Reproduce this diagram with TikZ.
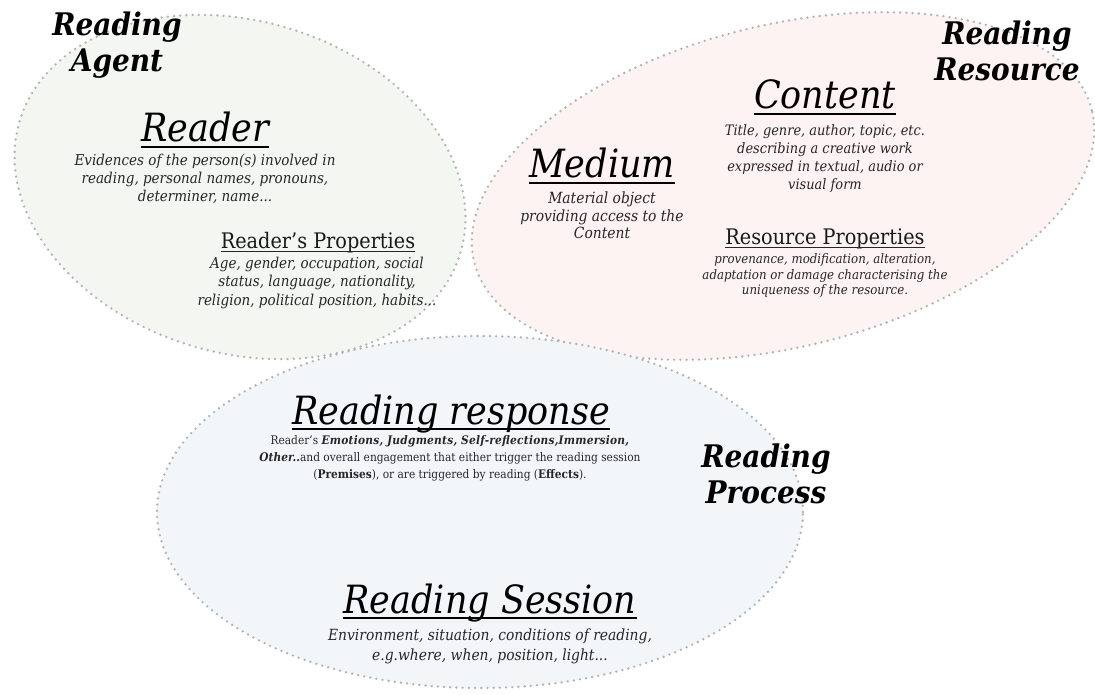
\documentclass[tikz,border=0pt]{standalone}
\usepackage{fontspec}
\setmainfont{DejaVu Serif}[FakeStretch=0.9]
\definecolor{agentfill}{HTML}{F3F6F1}
\definecolor{resfill}{HTML}{FCF3F2}
\definecolor{procfill}{HTML}{F3F6F9}
\definecolor{dotgray}{HTML}{B2B2B2}
\definecolor{desccol}{HTML}{262626}
\newcommand\mlines[1]{\begin{tabular}[t]{@{}c@{}}#1\end{tabular}}
\tikzset{
  blob/.style={draw=dotgray, line width=2.6pt, dash pattern=on 0pt off 6.2pt, line cap=round},
  areatxt/.style={anchor=base, inner sep=0pt, text=black, font=\fontsize{31.1}{36}\selectfont\bfseries\itshape},
  titletxt/.style={anchor=base, inner sep=0pt, text=black, font=\fontsize{38.9}{44}\selectfont\itshape},
  subtxt/.style={anchor=base, inner sep=0pt, text=black!90, font=\fontsize{21.4}{24}\selectfont},
  desctxt/.style={anchor=base, inner sep=0pt, text=desccol},
  ulthick/.style={line width=2.6pt, black},
  ulthin/.style={line width=1.3pt, black!85},
}
\begin{document}
\begin{tikzpicture}[x=1pt, y=-1pt]
\useasboundingbox (0,0) rectangle (1095,695);
\fill[white] (0,0) rectangle (1095,695);
% areas
\path[blob, fill=agentfill, rotate around={-16.6:(240,187)}] (240,187) ellipse [x radius=230pt, y radius=166pt];
\path[blob, fill=resfill, rotate around={13.8:(783,186)}] (783,186) ellipse [x radius=318pt, y radius=161pt];
\path[blob, fill=procfill] (480,512) ellipse [x radius=323pt, y radius=176pt];
% area labels
\node[areatxt] (lagent) at (117,36) {\mlines{Reading\\Agent}};
\node[areatxt] (lres) at (1007,45) {\mlines{Reading\\Resource}};
\node[areatxt] (lproc) at (766,467) {\mlines{Reading\\Process}};
% Reader
\node[titletxt] (treader) at (205,142) {Reader};
\draw[ulthick] ([yshift=-5pt]treader.base west) -- ([yshift=-5pt]treader.base east);
\node[desctxt, font=\fontsize{15}{18}\selectfont\itshape] (dreader) at (205,166)
  {\mlines{Evidences of the person(s) involved in\\reading, personal names, pronouns,\\determiner, name...}};
\node[subtxt] (treaderprop) at (318,248) {Reader’s Properties};
\draw[ulthin] ([yshift=-3.5pt]treaderprop.base west) -- ([yshift=-3.5pt]treaderprop.base east);
\node[desctxt, font=\fontsize{15}{18}\selectfont\itshape] (dreaderprop) at (317,269)
  {\mlines{Age, gender, occupation, social\\status, language, nationality,\\religion, political position, habits...}};
% Medium
\node[titletxt] (tmedium) at (602,178) {Medium};
\draw[ulthick] ([yshift=-5pt]tmedium.base west) -- ([yshift=-5pt]tmedium.base east);
\node[desctxt, font=\fontsize{15.4}{17.5}\selectfont\itshape] (dmedium) at (602,204)
  {\mlines{Material object\\providing access to the\\Content}};
% Content
\node[titletxt] (tcontent) at (825,109) {Content};
\draw[ulthick] ([yshift=-5pt]tcontent.base west) -- ([yshift=-5pt]tcontent.base east);
\node[desctxt, font=\fontsize{14.4}{18}\selectfont\itshape] (dcontent) at (825,136)
  {\mlines{Title, genre, author, topic, etc.\\describing a creative work\\expressed in textual, audio or\\visual form}};
\node[subtxt] (tresprop) at (825,244) {Resource Properties};
\draw[ulthin] ([yshift=-3.5pt]tresprop.base west) -- ([yshift=-3.5pt]tresprop.base east);
\node[desctxt, font=\fontsize{13.1}{16}\selectfont\itshape] (dresprop) at (825,263)
  {\mlines{provenance, modification, alteration,\\adaptation or damage characterising the\\uniqueness of the resource.}};
% Reading response
\node[titletxt] (tresponse) at (451,424) {Reading response};
\draw[ulthick] ([yshift=-5pt]tresponse.base west) -- ([yshift=-5pt]tresponse.base east);
\node[desctxt, font=\fontsize{11.8}{17}\selectfont] (dresponse) at (450,444)
  {\mlines{Reader’s \textbf{\textit{\addfontfeatures{LetterSpace=2}Emotions, Judgments, Self-reflections,Immersion,}}\\
   \textbf{\textit{Other..}}and overall engagement that either trigger the reading session\\
   (\textbf{Premises}), or are triggered by reading (\textbf{Effects}).}};
% Reading session
\node[titletxt] (tsession) at (490,613) {Reading Session};
\draw[ulthick] ([yshift=-5pt]tsession.base west) -- ([yshift=-5pt]tsession.base east);
\node[desctxt, font=\fontsize{15.4}{20}\selectfont\itshape] (dsession) at (490,640)
  {\mlines{Environment, situation, conditions of reading,\\e.g.where, when, position, light...}};
\end{tikzpicture}
\end{document}
